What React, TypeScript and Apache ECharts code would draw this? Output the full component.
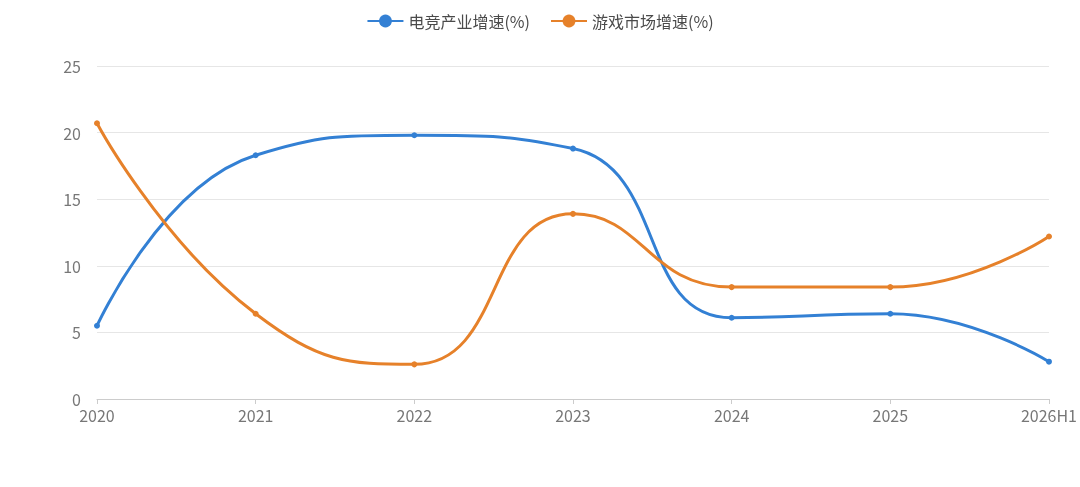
import React, { useEffect, useRef } from "react";
import * as echarts from "echarts";

const categories = ["2020", "2021", "2022", "2023", "2024", "2025", "2026H1"];
const esportsGrowth = [5.5, 18.3, 19.8, 18.8, 6.1, 6.4, 2.8];
const gameGrowth = [20.7, 6.4, 2.6, 13.9, 8.4, 8.4, 12.2];
const seriesNames = ["电竞产业增速(%)", "游戏市场增速(%)"];

export default function App() {
  const ref = useRef<HTMLDivElement>(null);
  useEffect(() => {
    if (!ref.current) return;
    const chart = echarts.init(ref.current, null, { renderer: "svg" });
    const font = "'Noto Sans CJK SC', 'Noto Sans', sans-serif";
    chart.setOption({
      animation: false,
      textStyle: { fontFamily: font },
      legend: {
        top: 8,
        left: "center",
        itemWidth: 36,
        itemHeight: 16,
        itemGap: 20,
        textStyle: { fontSize: 16, color: "#4a4a4a", fontFamily: font },
        data: seriesNames,
      },
      grid: { left: 97, right: 26, top: 66, bottom: 88, containLabel: false },
      xAxis: {
        type: "category",
        data: categories,
        boundaryGap: false,
        axisLine: { lineStyle: { color: "#cccccc" } },
        axisTick: { show: true, lineStyle: { color: "#cccccc" } },
        axisLabel: { color: "#777777", fontSize: 16, lineHeight: 16, margin: 8, fontFamily: font },
      },
      yAxis: {
        type: "value",
        min: 0,
        max: 25,
        interval: 5,
        axisLine: { show: false },
        axisTick: { show: false },
        axisLabel: { color: "#777777", fontSize: 16, lineHeight: 14, margin: 16, fontFamily: font },
        splitLine: { lineStyle: { color: "#e6e6e6" } },
      },
      series: [
        {
          name: seriesNames[0],
          type: "line",
          smooth: true,
          data: esportsGrowth,
          symbol: "circle",
          symbolSize: 6,
          itemStyle: { color: "#3380d4" },
          lineStyle: { width: 3, color: "#3380d4" },
        },
        {
          name: seriesNames[1],
          type: "line",
          smooth: true,
          data: gameGrowth,
          symbol: "circle",
          symbolSize: 6,
          itemStyle: { color: "#e6812a" },
          lineStyle: { width: 3, color: "#e6812a" },
        },
      ],
    });
    return () => chart.dispose();
  }, []);
  return (
    <div
      ref={ref}
      style={{ position: "fixed", left: 0, top: 0, width: 1080, height: 487 }}
    />
  );
}
